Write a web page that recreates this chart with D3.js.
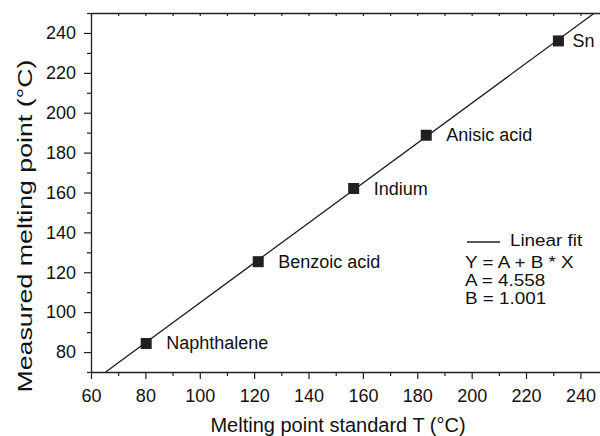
<!DOCTYPE html>
<html>
<head>
<meta charset="utf-8">
<script src="https://cdn.jsdelivr.net/npm/d3@7"></script>
<style>
  body { margin: 0; background: #fff; }
  svg { font-family: "Liberation Sans", Arial, sans-serif; }
</style>
</head>
<body>
<svg width="600" height="436"></svg>
<script>
// data
var names = ["Naphthalene", "Benzoic acid", "Indium", "Anisic acid", "Sn"];
var standardT = [80.3, 121.5, 156.6, 183.3, 231.9];
var measuredT = [84.3, 125.3, 162.0, 188.7, 236.0];
var fitA = 4.558, fitB = 1.001;
var xTicks = [60, 80, 100, 120, 140, 160, 180, 200, 220, 240];
var yTicks = [80, 100, 120, 140, 160, 180, 200, 220, 240];
var legendLines = ["Y = A + B * X", "A = 4.558", "B = 1.001"];

// plot box (note: "top" is taken by window.top)
var mLeft = 91, mRight = 600, mTop = 13, mBottom = 372;

var svg = d3.select("svg");

var x = d3.scaleLinear().domain([60, 247.2]).range([mLeft, mRight]);
var y = d3.scaleLinear().domain([70, 250]).range([mBottom, mTop]);

var ink = "#231f20";

// bottom axis, major + minor
var xAxis = svg.append("g").attr("transform", "translate(0," + mBottom + ")");
xAxis.call(d3.axisBottom(x).tickValues(xTicks).tickSize(7).tickSizeOuter(0).tickPadding(10));
xAxis.append("g").call(d3.axisBottom(x).tickValues(d3.range(70, 250, 20)).tickSize(4).tickFormat("").tickSizeOuter(0))
  .select(".domain").remove();

// left axis
var yAxis = svg.append("g").attr("transform", "translate(" + mLeft + ",0)");
yAxis.call(d3.axisLeft(y).tickValues(yTicks).tickSize(7).tickSizeOuter(0).tickPadding(8));
yAxis.append("g").call(d3.axisLeft(y).tickValues(d3.range(70, 260, 20)).tickSize(4).tickFormat("").tickSizeOuter(0))
  .select(".domain").remove();

// top line with small inward ticks
var topAxis = svg.append("g").attr("transform", "translate(0," + mTop + ")");
topAxis.call(d3.axisBottom(x).tickValues(d3.range(60, 250, 10)).tickSize(3).tickFormat("").tickSizeOuter(0));

svg.selectAll(".domain").attr("stroke", ink).attr("stroke-width", 1.3);
svg.selectAll(".tick line").attr("stroke", ink).attr("stroke-width", 1.2);
svg.selectAll(".tick text").attr("font-size", 18).attr("fill", "#111")
  .attr("font-family", "Liberation Sans, Arial, sans-serif");

// fit line, clipped to plot
svg.append("clipPath").attr("id", "clip").append("rect")
  .attr("x", mLeft).attr("y", mTop).attr("width", mRight - mLeft).attr("height", mBottom - mTop);

var x0 = (70 - fitA) / fitB, x1 = (250 - fitA) / fitB;
svg.append("line")
  .attr("clip-path", "url(#clip)")
  .attr("x1", x(x0)).attr("y1", y(fitA + fitB * x0))
  .attr("x2", x(x1)).attr("y2", y(fitA + fitB * x1))
  .attr("stroke", ink).attr("stroke-width", 1.3);

// points
var pts = names.map(function(n, i) { return { name: n, x: standardT[i], y: measuredT[i] }; });
var sq = 11;
svg.append("g").selectAll("rect").data(pts).enter().append("rect")
  .attr("x", function(d) { return x(d.x) - sq / 2; })
  .attr("y", function(d) { return y(d.y) - sq / 2; })
  .attr("width", sq).attr("height", sq)
  .attr("fill", ink);

svg.append("g").selectAll("text").data(pts).enter().append("text")
  .attr("x", function(d) { return x(d.x) + (d.name == "Sn" ? 14 : 20); })
  .attr("y", function(d) { return y(d.y) + 6; })
  .attr("font-size", 18).attr("fill", "#111")
  .text(function(d) { return d.name; });

// legend (text a bit stretched sideways, like the original)
svg.append("line").attr("x1", 467).attr("x2", 500).attr("y1", 242).attr("y2", 242)
  .attr("stroke", ink).attr("stroke-width", 1.3);
var leg = svg.append("g").attr("transform", "translate(465,0) scale(1.11,1)");
leg.append("text").attr("x", 40.5).attr("y", 246).attr("font-size", 17).attr("fill", "#111").text("Linear fit");
leg.selectAll("text.row").data(legendLines).enter().append("text")
  .attr("class", "row")
  .attr("x", 0)
  .attr("y", function(d, i) { return 268 + i * 18; })
  .attr("font-size", 17).attr("fill", "#111")
  .text(function(d) { return d; });

// axis titles
svg.append("text").attr("x", 338).attr("y", 432)
  .attr("text-anchor", "middle").attr("font-size", 20).attr("fill", "#111")
  .text("Melting point standard T (°C)");
svg.append("text")
  .attr("transform", "translate(32,226) rotate(-90)")
  .attr("text-anchor", "middle").attr("font-size", 21).attr("fill", "#111")
  .attr("textLength", 333).attr("lengthAdjust", "spacingAndGlyphs")
  .text("Measured melting point (°C)");
</script>
</body>
</html>
